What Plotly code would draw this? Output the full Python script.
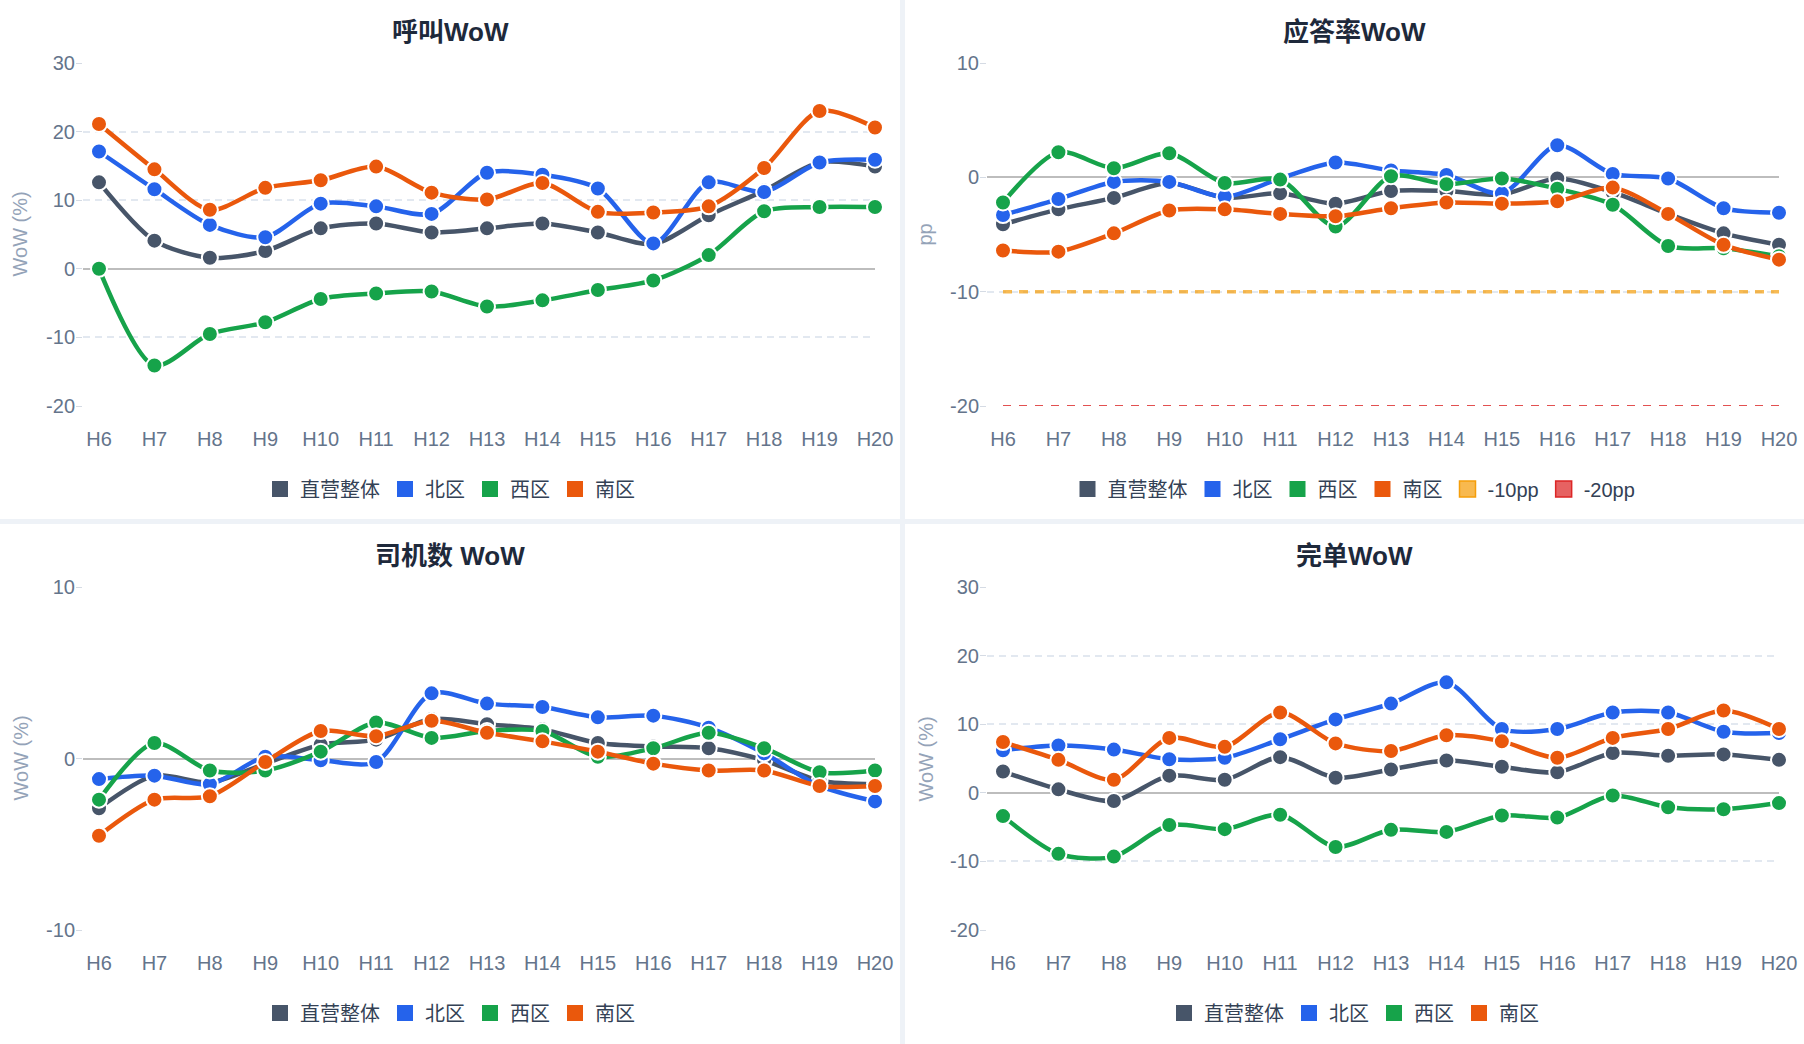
import plotly.graph_objects as go

W, H = 1804, 1044

hours = ["H6", "H7", "H8", "H9", "H10", "H11", "H12", "H13", "H14", "H15", "H16", "H17", "H18", "H19", "H20"]
series_names = ["直营整体", "北区", "西区", "南区"]
series_colors = ["#475569", "#2563eb", "#16a34a", "#ea580c"]

# 呼叫WoW (%)
call_total = [12.6, 4.1, 1.6, 2.6, 5.9, 6.6, 5.3, 5.9, 6.6, 5.3, 3.6, 7.8, 11.4, 15.5, 14.9]
call_north = [17.1, 11.6, 6.4, 4.6, 9.5, 9.1, 8.0, 14.0, 13.7, 11.7, 3.7, 12.6, 11.2, 15.5, 15.9]
call_west = [0.0, -14.1, -9.5, -7.8, -4.4, -3.6, -3.3, -5.5, -4.6, -3.1, -1.7, 2.0, 8.4, 9.0, 9.0]
call_south = [21.1, 14.5, 8.6, 11.8, 12.9, 14.9, 11.1, 10.1, 12.5, 8.3, 8.2, 9.1, 14.7, 23.0, 20.6]

# 应答率WoW (pp)
ans_total = [-4.1, -2.8, -1.8, -0.5, -1.8, -1.4, -2.3, -1.2, -1.2, -1.5, -0.1, -1.3, -3.2, -4.9, -5.9]
ans_north = [-3.3, -1.9, -0.4, -0.4, -1.7, -0.1, 1.3, 0.6, 0.2, -1.4, 2.8, 0.3, -0.1, -2.7, -3.1]
ans_west = [-2.2, 2.2, 0.8, 2.1, -0.5, -0.2, -4.3, 0.1, -0.6, -0.1, -1.0, -2.4, -6.0, -6.2, -6.9]
ans_south = [-6.4, -6.5, -4.9, -2.9, -2.8, -3.2, -3.4, -2.7, -2.2, -2.3, -2.1, -0.9, -3.2, -5.9, -7.2]
ans_ref_names = ["-10pp", "-20pp"]
ans_ref_values = [-10, -20]
ans_ref_colors = ["rgba(245,158,11,0.72)", "rgba(220,38,38,0.72)"]
ans_ref_borders = ["#f59e0b", "#dc2626"]

# 司机数 WoW (%)
drv_total = [-2.9, -1.0, -1.4, -0.3, 0.8, 1.1, 2.3, 2.0, 1.7, 0.9, 0.7, 0.6, -0.1, -1.3, -1.5]
drv_north = [-1.2, -1.0, -1.5, 0.1, -0.1, -0.2, 3.8, 3.2, 3.0, 2.4, 2.5, 1.8, 0.3, -1.6, -2.5]
drv_west = [-2.4, 0.9, -0.7, -0.7, 0.4, 2.1, 1.2, 1.6, 1.6, 0.1, 0.6, 1.5, 0.6, -0.8, -0.7]
drv_south = [-4.5, -2.4, -2.2, -0.2, 1.6, 1.3, 2.2, 1.5, 1.0, 0.4, -0.3, -0.7, -0.7, -1.6, -1.6]

# 完单WoW (%)
fin_total = [3.1, 0.5, -1.2, 2.5, 1.9, 5.2, 2.2, 3.4, 4.7, 3.8, 3.0, 5.8, 5.4, 5.6, 4.8]
fin_north = [6.2, 6.9, 6.3, 4.9, 5.1, 7.8, 10.7, 13.0, 16.1, 9.3, 9.3, 11.7, 11.7, 8.9, 8.7]
fin_west = [-3.4, -8.9, -9.3, -4.7, -5.3, -3.2, -7.9, -5.4, -5.7, -3.3, -3.6, -0.4, -2.1, -2.4, -1.5]
fin_south = [7.4, 4.8, 1.9, 8.0, 6.7, 11.7, 7.2, 6.1, 8.4, 7.5, 5.1, 8.0, 9.3, 12.0, 9.3]

panels = [
    dict(title="呼叫WoW", ytitle="WoW (%)", data=[call_total, call_north, call_west, call_south],
         yticks=[-20, -10, 0, 10, 20, 30], col=0, row=0),
    dict(title="应答率WoW", ytitle="pp", data=[ans_total, ans_north, ans_west, ans_south],
         yticks=[-20, -10, 0, 10], col=1, row=0),
    dict(title="司机数 WoW", ytitle="WoW (%)", data=[drv_total, drv_north, drv_west, drv_south],
         yticks=[-10, 0, 10], col=0, row=1),
    dict(title="完单WoW", ytitle="WoW (%)", data=[fin_total, fin_north, fin_west, fin_south],
         yticks=[-20, -10, 0, 10, 20, 30], col=1, row=1),
]

FONT = "Liberation Sans, Noto Sans CJK SC, sans-serif"


def px_x(p):
    return p / W


def px_y(p):
    return 1 - p / H


# pixel geometry of each panel
col_plot = [(83, 875), (987, 1779)]
first_pt = [99, 1003]
col_center = [450, 1354]
row_plot = [(63, 406), (587, 930)]
row_title = [32, 556]
row_legend = [489, 1013]
ytitle_x = [20, 925]

fig = go.Figure()
shapes = []
annotations = []
layout = {}

# white cards on the light background
for x0, x1 in [(0, 900), (905, W)]:
    for y0, y1 in [(0, 519), (524, H)]:
        shapes.append(dict(type="rect", xref="paper", yref="paper", layer="below",
                           x0=px_x(x0), x1=px_x(x1), y0=px_y(y1), y1=px_y(y0),
                           fillcolor="white", line=dict(width=0)))

for i, p in enumerate(panels):
    n = i + 1
    xa = "x" if n == 1 else f"x{n}"
    ya = "y" if n == 1 else f"y{n}"
    lg = "legend" if n == 1 else f"legend{n}"
    (l, r), (t, b) = col_plot[p["col"]], row_plot[p["row"]]

    if p["title"] == "应答率WoW":
        for rname, rval, rcol, width, op in zip(ans_ref_names, ans_ref_values, ans_ref_borders,
                                                [3.5, 1.8], [0.7, 0.8]):
            fig.add_trace(go.Scatter(
                x=[hours[0], hours[-1]], y=[rval, rval], xaxis=xa, yaxis=ya, mode="lines",
                line=dict(color=rcol, width=width, dash="9px,7px" if width > 3 else "8px,8px"),
                opacity=op, showlegend=False, hoverinfo="skip",
            ))

    for name, color, vals in zip(series_names, series_colors, p["data"]):
        fig.add_trace(go.Scatter(
            x=hours, y=vals, xaxis=xa, yaxis=ya, mode="lines+markers", name=name,
            line=dict(color=color, width=4.5, shape="spline", smoothing=0.8),
            marker=dict(size=16, color=color, line=dict(color="white", width=2)),
            showlegend=False, cliponaxis=False,
        ))

    # legend swatches
    for name, color in zip(series_names, series_colors):
        fig.add_trace(go.Scatter(
            x=[None], y=[None], xaxis=xa, yaxis=ya, mode="markers", name=name, legend=lg,
            marker=dict(symbol="square", size=16, color=color), showlegend=True,
        ))
    if p["title"] == "应答率WoW":
        for rname, fill, border in zip(ans_ref_names, ans_ref_colors, ans_ref_borders):
            fig.add_trace(go.Scatter(
                x=[None], y=[None], xaxis=xa, yaxis=ya, mode="markers", name=rname, legend=lg,
                marker=dict(symbol="square", size=16, color=fill, line=dict(color=border, width=1.5)),
                showlegend=True,
            ))

    f0 = first_pt[p["col"]]
    step = (r - f0) / 14
    layout["xaxis" if n == 1 else f"xaxis{n}"] = dict(
        domain=[px_x(l), px_x(r)], anchor=ya, type="category",
        categoryorder="array", categoryarray=hours, automargin=False,
        range=[-(f0 - l) / step, 14], showgrid=False, zeroline=False, showline=False,
        ticks="", ticklabelstandoff=19,
        tickfont=dict(size=20, color="#64748b", family=FONT), fixedrange=True,
    )
    layout["yaxis" if n == 1 else f"yaxis{n}"] = dict(
        domain=[px_y(b), px_y(t)], anchor=xa, automargin=False,
        range=[p["yticks"][0], p["yticks"][-1]],
        tickvals=p["yticks"], ticktext=[str(v) for v in p["yticks"]],
        showgrid=True, gridcolor="#e2e8f0", gridwidth=1.5, griddash="7px,5px",
        zeroline=True, zerolinecolor="#bdbdbd", zerolinewidth=2, showline=False,
        ticks="outside", ticklen=6, tickcolor="#d5dbe4", ticklabelstandoff=-3,
        tickfont=dict(size=20, color="#64748b", family=FONT), fixedrange=True,
    )
    layout[lg] = dict(
        orientation="h", x=px_x(col_center[p["col"]]), xanchor="center",
        y=px_y(row_legend[p["row"]]), yanchor="middle",
        font=dict(size=20, color="#334155", family=FONT), bgcolor="rgba(0,0,0,0)",
        itemclick=False, itemdoubleclick=False,
    )

    annotations.append(dict(
        text=f"<b>{p['title']}</b>", xref="paper", yref="paper", showarrow=False,
        x=px_x(col_center[p["col"]]), y=px_y(row_title[p["row"]]), xanchor="center", yanchor="middle",
        font=dict(size=26, color="#1e293b", family=FONT),
    ))
    annotations.append(dict(
        text=p["ytitle"], xref="paper", yref="paper", showarrow=False, textangle=-90,
        x=px_x(ytitle_x[p["col"]]), y=px_y((t + b) / 2), xanchor="center", yanchor="middle",
        font=dict(size=20, color="#94a3b8", family=FONT),
    ))

fig.update_layout(
    width=W, height=H, margin=dict(l=0, r=0, t=0, b=0, pad=0, autoexpand=False),
    paper_bgcolor="#eef2f7", plot_bgcolor="rgba(0,0,0,0)",
    font=dict(family=FONT), shapes=shapes, annotations=annotations,
    hovermode="closest", **layout,
)

# pin the figure to the top-left corner of the window (no body margin, no scrolling)
pin = ("document.body.style.margin='0';document.body.style.overflow='hidden';"
       "var d=document.getElementById('{plot_id}');"
       "d.style.position='fixed';d.style.left='0';d.style.top='0';")
fig.write_html("out.html", config={"displayModeBar": False}, post_script=pin)
